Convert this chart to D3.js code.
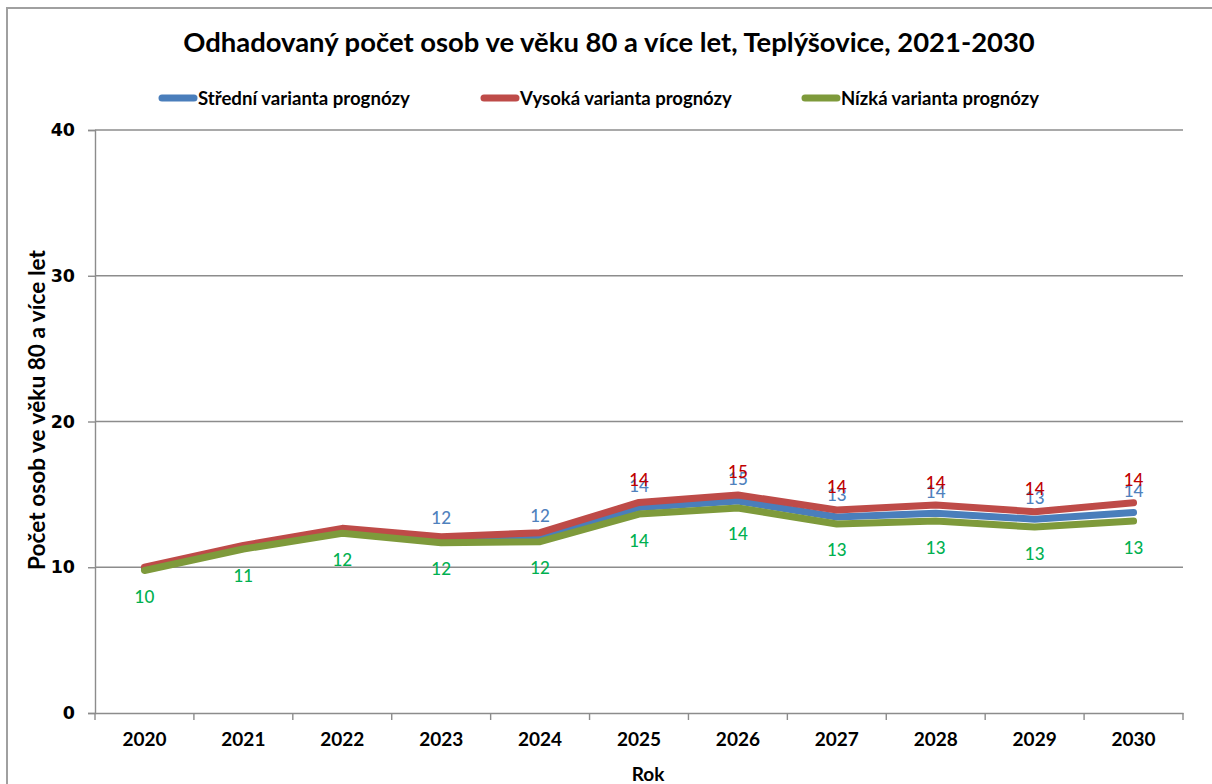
<!DOCTYPE html>
<html>
<head>
<meta charset="utf-8">
<script src="https://cdn.jsdelivr.net/npm/d3@7"></script>
<style>
  html, body { margin: 0; padding: 0; background: #fff; }
  svg { display: block; }
</style>
</head>
<body>
<svg id="chart" width="1212" height="784"></svg>
<script>
// ---- data ----
const years = ["2020","2021","2022","2023","2024","2025","2026","2027","2028","2029","2030"];
const stredni = [9.9, 11.35, 12.5, 11.87, 12.05, 14.1, 14.55, 13.45, 13.7, 13.3, 13.75];
const vysoka  = [10.0, 11.5, 12.67, 12.1, 12.37, 14.45, 14.96, 13.93, 14.27, 13.81, 14.43];
const nizka   = [9.78, 11.25, 12.33, 11.68, 11.75, 13.65, 14.07, 12.97, 13.17, 12.76, 13.17];
const yTicks = [0, 10, 20, 30, 40];
const seriesNames = ["Střední varianta prognózy", "Vysoká varianta prognózy", "Nízká varianta prognózy"];
const stredniLabelYears = ["2023","2024","2025","2026","2027","2028","2029","2030"];
const vysokaLabelYears  = ["2025","2026","2027","2028","2029","2030"];
const nizkaLabelYears   = years;
const titleText = "Odhadovaný počet osob ve věku 80 a více let, Teplýšovice, 2021-2030";
const yTitle = "Počet osob ve věku 80 a více let";
const xTitle = "Rok";

// ---- layout ----
const svg = d3.select("#chart");
const plot = {left: 95, right: 1183, top: 130, bottom: 713};
const narrow = "Lato, 'Open Sans', sans-serif";

function fitWidth(sel, target) {
  const w = sel.node().getComputedTextLength();
  const fs = parseFloat(sel.attr("font-size"));
  sel.attr("font-size", fs * target / w);
}

// outer border
svg.append("rect").attr("x", 7).attr("y", 8).attr("width", 1220).attr("height", 800)
  .attr("fill", "none").attr("stroke", "#a0a0a0").attr("stroke-width", 2);

const x = d3.scaleBand().domain(years).range([plot.left, plot.right]).paddingInner(0).paddingOuter(0);
const y = d3.scaleLinear().domain([0, 40]).range([plot.bottom, plot.top]);

// gridlines
svg.append("g").selectAll("line").data(yTicks.filter(d => d > 0)).join("line")
  .attr("x1", plot.left).attr("x2", plot.right)
  .attr("y1", d => y(d)).attr("y2", d => y(d))
  .attr("stroke", "#8c8c8c").attr("stroke-width", 1.4);

// y axis
const yAxis = svg.append("g").attr("transform", `translate(${plot.left},0)`)
  .call(d3.axisLeft(y).tickValues(yTicks).tickSize(7).tickPadding(13));
yAxis.select(".domain").attr("stroke", "#8c8c8c").attr("stroke-width", 1.4);
yAxis.selectAll(".tick line").attr("stroke", "#8c8c8c").attr("stroke-width", 1.4);
yAxis.selectAll(".tick text").attr("font-family", "'DejaVu Sans', sans-serif")
  .attr("font-weight", "bold").attr("font-size", 17.5).attr("fill", "#000");

// x axis
const xAxis = svg.append("g").attr("transform", `translate(0,${plot.bottom})`)
  .call(d3.axisBottom(x).tickSize(0).tickPadding(20));
xAxis.select(".domain").attr("stroke", "#8c8c8c").attr("stroke-width", 1.4);
xAxis.selectAll(".tick text").attr("font-family", narrow).attr("font-weight", "bold")
  .attr("font-size", 19).attr("fill", "#000");
// boundary ticks
const bounds = years.map(d => x(d)).concat([x(years[years.length-1]) + x.bandwidth()]);
svg.append("g").selectAll("line").data(bounds).join("line")
  .attr("x1", d => d).attr("x2", d => d).attr("y1", plot.bottom).attr("y2", plot.bottom + 7)
  .attr("stroke", "#8c8c8c").attr("stroke-width", 1.4);

// series lines
const cx = d => x(d) + x.bandwidth() / 2;
const series = [
  {name: seriesNames[0], values: stredni, color: "#4A7EBB", labelColor: "#4F81BD", labelYears: stredniLabelYears, dy: -22},
  {name: seriesNames[1], values: vysoka,  color: "#BE4B48", labelColor: "#C00000", labelYears: vysokaLabelYears, dy: -23},
  {name: seriesNames[2], values: nizka,   color: "#7E9A3B", labelColor: "#00B050", labelYears: nizkaLabelYears, dy: 26}
];
const line = d3.line().x((d, i) => cx(years[i])).y(d => y(d));
series.forEach(s => {
  svg.append("path").datum(s.values).attr("d", line)
    .attr("fill", "none").attr("stroke", s.color).attr("stroke-width", 7)
    .attr("stroke-linejoin", "round").attr("stroke-linecap", "round");
});
// data labels (green first, then blue, then red on top)
[series[2], series[0], series[1]].forEach(s => {
  svg.append("g").selectAll("text").data(years.map((yr, i) => ({yr, v: s.values[i]})).filter(d => s.labelYears.includes(d.yr)))
    .join("text")
    .attr("x", d => cx(d.yr)).attr("y", d => y(d.v) + s.dy)
    .attr("text-anchor", "middle").attr("dominant-baseline", "central")
    .attr("font-family", narrow).attr("font-size", 17).attr("font-weight", 500).attr("fill", s.labelColor)
    .text(d => d3.format(".0f")(d.v));
});

// title
const t = svg.append("text").attr("x", 609).attr("y", 52).attr("text-anchor", "middle")
  .attr("font-family", narrow).attr("font-weight", "bold").attr("font-size", 26).attr("fill", "#000")
  .text(titleText);
fitWidth(t, 852);

// legend
const legendX = [160, 482, 803];
series.forEach((s, i) => {
  const g = svg.append("g").attr("transform", `translate(${legendX[i]},98)`);
  g.append("line").attr("x1", 2).attr("x2", 34).attr("y1", 0).attr("y2", 0)
    .attr("stroke", s.color).attr("stroke-width", 7).attr("stroke-linecap", "round");
  const tx = g.append("text").attr("x", 38).attr("y", 0).attr("dominant-baseline", "central")
    .attr("font-family", narrow).attr("font-weight", "bold").attr("font-size", 16).attr("fill", "#000")
    .text(s.name);
  fitWidth(tx, [212, 212, 198][i]);
});

// axis titles
const yt = svg.append("text").attr("transform", "translate(36,410) rotate(-90)")
  .attr("text-anchor", "middle").attr("dominant-baseline", "central")
  .attr("font-family", narrow).attr("font-weight", "bold").attr("font-size", 19).attr("fill", "#000")
  .text(yTitle);
fitWidth(yt, 320);

svg.append("text").attr("x", 648).attr("y", 773).attr("text-anchor", "middle").attr("dominant-baseline", "central")
  .attr("font-family", narrow).attr("font-weight", "bold").attr("font-size", 19).attr("fill", "#000")
  .text(xTitle);
</script>
</body>
</html>
